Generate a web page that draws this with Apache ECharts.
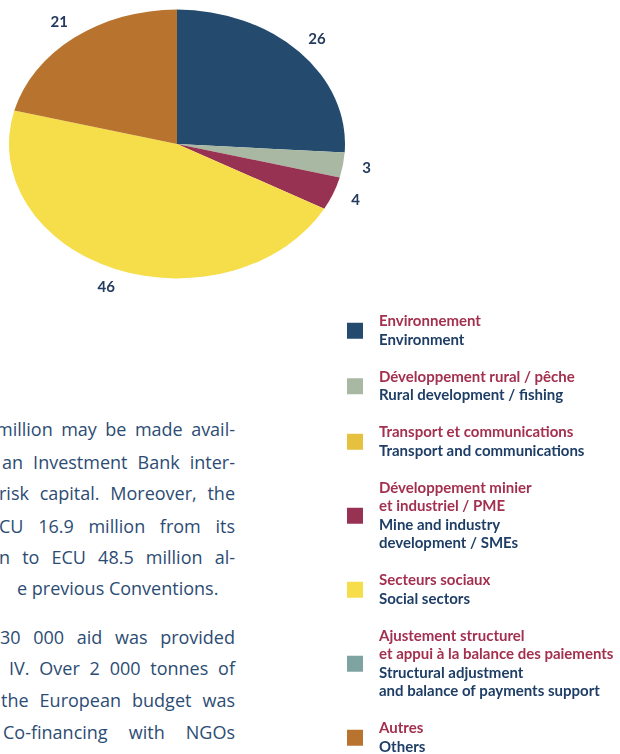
<!DOCTYPE html>
<html>
<head>
<meta charset="utf-8">
<script src="https://cdn.jsdelivr.net/npm/echarts@6/dist/echarts.min.js"></script>
<style>
  html, body { margin: 0; padding: 0; background: #fff; }
  #page { position: relative; width: 620px; height: 754px; overflow: hidden; background: #fff; }
  #main { position: absolute; left: 0; top: 0; width: 620px; height: 754px; }
  /* the pie is drawn as a circle and flattened into an ellipse;
     the layer is shifted up so the whole circle fits inside it */
  #pie {
    position: absolute; left: 0; top: -50px; width: 620px; height: 500px;
    transform-origin: 0 194px; transform: scaleY(0.8);
  }
  .line {
    position: absolute; right: 385px;
    font-family: "Open Sans", Lato, sans-serif; font-size: 18px; line-height: 32px;
    color: #2c4c73; text-align: justify; text-align-last: justify;
  }
  .line.last { text-align: left; text-align-last: left; }
</style>
</head>
<body>
<div id="page">
  <div id="text">
    <div class="line" style="left:-4px; top:413px;">million may be made avail-</div>
    <div class="line" style="left:2px; top:446px;">an Investment Bank inter-</div>
    <div class="line" style="left:-1px; top:477px;">risk capital. Moreover, the</div>
    <div class="line" style="left:-11px; top:510px;">ECU 16.9 million from its</div>
    <div class="line" style="left:-1px; top:541px;">n to ECU 48.5 million al-</div>
    <div class="line last" style="left:17px; top:572px;">e previous Conventions.</div>
    <div class="line" style="left:0px; top:621px;">30 000 aid was provided</div>
    <div class="line" style="left:9px; top:652px;">IV. Over 2 000 tonnes of</div>
    <div class="line" style="left:1px; top:684px;">the European budget was</div>
    <div class="line" style="left:3px; top:716px;">Co-financing with NGOs</div>
  </div>
  <div id="pie"></div>
  <div id="main"></div>
</div>
<script>
// Sector labels (French / English), shares in %, and colours
const sectorFr = [
  'Environnement',
  'Développement rural / pêche',
  'Transport et communications',
  'Développement minier\net industriel / PME',
  'Secteurs sociaux',
  'Ajustement structurel\net appui à la balance des paiements',
  'Autres'
];
const sectorEn = [
  'Environment',
  'Rural development / fishing',
  'Transport and communications',
  'Mine and industry\ndevelopment / SMEs',
  'Social sectors',
  'Structural adjustment\nand balance of payments support',
  'Others'
];
const shares = [26, 3, 0, 4, 46, 0, 21];
const sectorColors = ['#244A6E', '#A9B8A2', '#E6C140', '#983252', '#F6DD4A', '#7FA3A0', '#B8732F'];

// geometry of the pie (circle before flattening), in page pixels
const CX = 177, CY = 144, R = 168;
const PIE_SHIFT = 50;    // offset of the pie layer (see #pie)
const SQUASH = 0.8;      // vertical flattening of the ellipse
const LABEL_GAP = 24;    // distance of value labels beyond the rim

const pieChart = echarts.init(document.getElementById('pie'), null, { renderer: 'svg' });
pieChart.setOption({
  animation: false,
  series: [{
    type: 'pie',
    silent: true,
    center: [CX, CY + PIE_SHIFT],
    radius: R,
    startAngle: 90,
    clockwise: true,
    label: { show: false },
    labelLine: { show: false },
    itemStyle: { borderWidth: 0 },
    data: shares.map((v, i) => ({
      name: sectorEn[i], value: v, itemStyle: { color: sectorColors[i] }
    }))
  }]
});

// Unflattened layer: value labels placed on the ellipse, plus the legend
const mainChart = echarts.init(document.getElementById('main'));
mainChart.setOption({
  animation: false,
  legend: {
    orient: 'vertical',
    left: 347,
    top: 314,
    height: 520,          // keep all entries in a single column
    padding: 0,
    itemWidth: 16,
    itemHeight: 16,
    itemGap: 22,
    icon: 'rect',
    selectedMode: false,
    data: sectorEn.map((n, i) => ({ name: n, itemStyle: { color: sectorColors[i], opacity: 1 } })),
    formatter: function (name) {
      const i = sectorEn.indexOf(name);
      const fr = sectorFr[i].split('\n').map(s => '{fr|' + s + '}');
      const en = sectorEn[i].split('\n').map(s => '{en|' + s + '}');
      return fr.concat(en).join('\n');
    },
    textStyle: {
      rich: {
        fr: { fontFamily: 'Lato', fontWeight: 'bold', fontSize: 15, lineHeight: 18.5, color: '#A3304F', padding: [0, 0, 0, 11] },
        en: { fontFamily: 'Lato', fontWeight: 'bold', fontSize: 15, lineHeight: 18.5, color: '#1E3E66', padding: [0, 0, 0, 11] }
      }
    }
  },
  series: [{
    type: 'pie',
    silent: true,
    center: [CX, CY],
    radius: R,
    startAngle: 90,
    clockwise: true,
    avoidLabelOverlap: false,
    label: {
      show: true,
      position: 'outside',
      formatter: '{c}',
      fontFamily: 'Lato',
      fontWeight: 'bold',
      fontSize: 15,
      color: '#243B5E'
    },
    labelLine: { show: true, length: 4, length2: 0, lineStyle: { opacity: 0 } },
    labelLayout: function (params) {
      const pts = params.labelLinePoints;
      let dx, dy;
      if (pts && pts.length) {
        dx = pts[0][0] - CX; dy = pts[0][1] - CY;
      } else {
        const r = params.labelRect;
        dx = r.x + r.width / 2 - CX; dy = r.y + r.height / 2 - CY;
      }
      const d = Math.hypot(dx, dy) || 1;
      const rr = R + LABEL_GAP;
      return {
        x: CX + dx / d * rr,
        y: CY + dy / d * rr * SQUASH,
        align: 'center',
        verticalAlign: 'middle'
      };
    },
    data: shares.map((v, i) => ({
      name: sectorEn[i],
      value: v,
      itemStyle: { color: 'rgba(0,0,0,0)' },
      label: { show: v > 0 }
    }))
  }]
});
</script>
</body>
</html>
